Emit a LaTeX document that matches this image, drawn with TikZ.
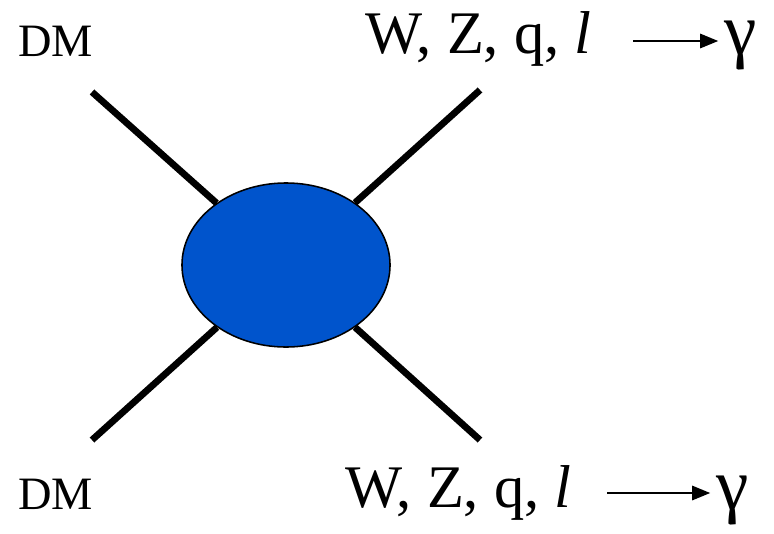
\documentclass[tikz,border=0pt]{standalone}
\usepackage{fontspec}
\setmainfont{Liberation Serif}
\usetikzlibrary{shapes.geometric,arrows.meta}
\definecolor{blobblue}{RGB}{0,84,204}

\begin{document}
\begin{tikzpicture}[x=0.025cm, y=-0.025cm,
  leg/.style={line width=4.8pt},
  dmlabel/.style={font=\fontsize{33}{36}\selectfont, inner sep=0pt, anchor=base west},
  finstate/.style={font=\fontsize{43}{46}\selectfont, inner sep=0pt, anchor=base west},
  photon/.style={font=\fontsize{52}{56}\selectfont, inner sep=0pt, anchor=base west},
  decay/.style={line width=2.1pt, shorten >=4pt, -{Triangle[length=13pt,width=10pt]}}]
  \useasboundingbox (0,0) rectangle (774,533);

  % Blob vertex
  \node[ellipse, draw, line width=1.1pt, fill=blobblue, inner sep=0pt,
        minimum width=5.2cm, minimum height=4.1cm] (blob) at (286,265) {};

  % External legs
  \coordinate (dmin) at (92,92);
  \coordinate (dmout) at (92,440);
  \coordinate (smin) at (480,90);
  \coordinate (smout) at (480,440);
  \draw[leg] (dmin) -- (blob);
  \draw[leg] (dmout) -- (blob);
  \draw[leg] (smin) -- (blob);
  \draw[leg] (smout) -- (blob);

  % Labels
  \node[dmlabel] (dmtop) at (18,56) {DM};
  \node[dmlabel] (dmbot) at (18,509) {DM};

  \node[finstate] (fstop) at (365,53) {W, Z, q, \textit{l}};
  \node[photon] (gtop) at (724,54) {γ};
  \coordinate (artop) at (633,41);
  \draw[decay] (artop) -- (artop -| gtop.west);

  \node[finstate] (fsbot) at (345,507) {W, Z, q, \textit{l}};
  \node[photon] (gbot) at (716,509) {γ};
  \coordinate (arbot) at (607,493);
  \draw[decay] (arbot) -- (arbot -| gbot.west);
\end{tikzpicture}
\end{document}
